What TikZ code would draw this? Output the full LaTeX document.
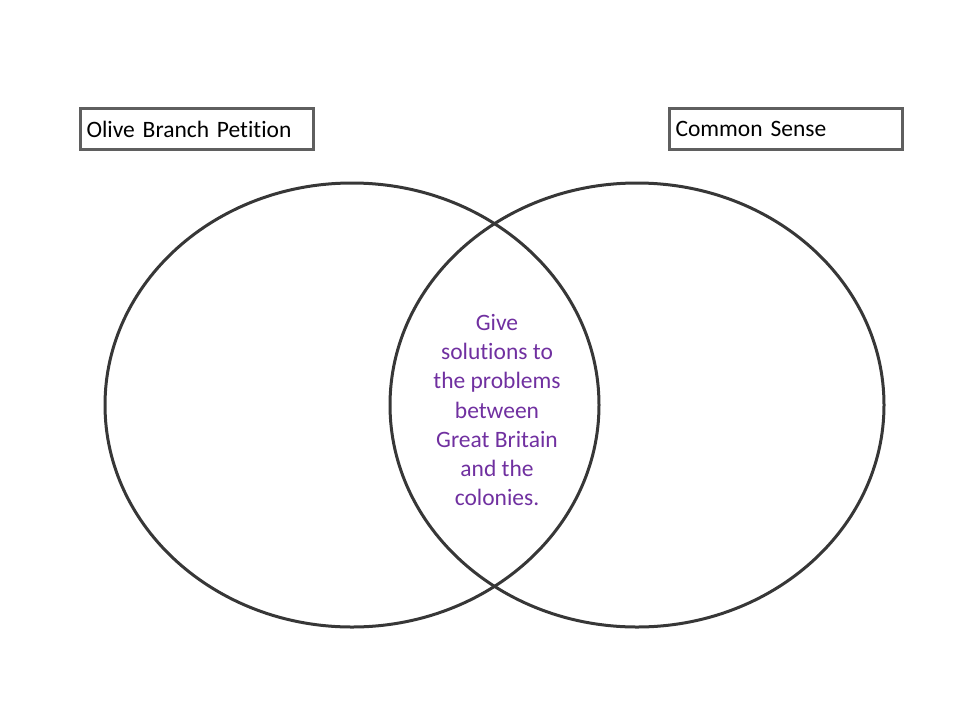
\documentclass[tikz,border=0pt]{standalone}
\usepackage{fontspec}
\setmainfont{Carlito}[Ligatures=NoCommon]
\usetikzlibrary{positioning}
\definecolor{rim}{RGB}{55,55,55}
\definecolor{note}{RGB}{112,48,160}
\tikzset{
    every picture/.style = {x=1pt, y=-1pt},
    titlebox/.style = {
        draw = rim!80, line width = 3pt,
        minimum width = 233pt, minimum height = 41pt,
        text width = 221pt, align = left, inner xsep = 6pt, inner ysep = 2pt,
        font = \fontsize{23.5}{26}\selectfont
    },
    ring/.style = {draw = rim, line width = 3pt}
}
\begin{document}
\begin{tikzpicture}
    \useasboundingbox (0,0) rectangle (960,720);
    \draw[ring] (352,405) ellipse [x radius=247, y radius=222];
    \draw[ring] (637,405) ellipse [x radius=247, y radius=222];
    \node[titlebox] (olive) at (197,129) {Olive Branch Petition};
    \node[titlebox] (sense) at (786,129) {Common Sense};
    \node[text=note, align=center, font=\fontsize{23.5}{29.2}\selectfont] (both) at (497,410)
        {Give\\solutions to\\the problems\\between\\Great Britain\\and the\\colonies.};
\end{tikzpicture}
\end{document}
